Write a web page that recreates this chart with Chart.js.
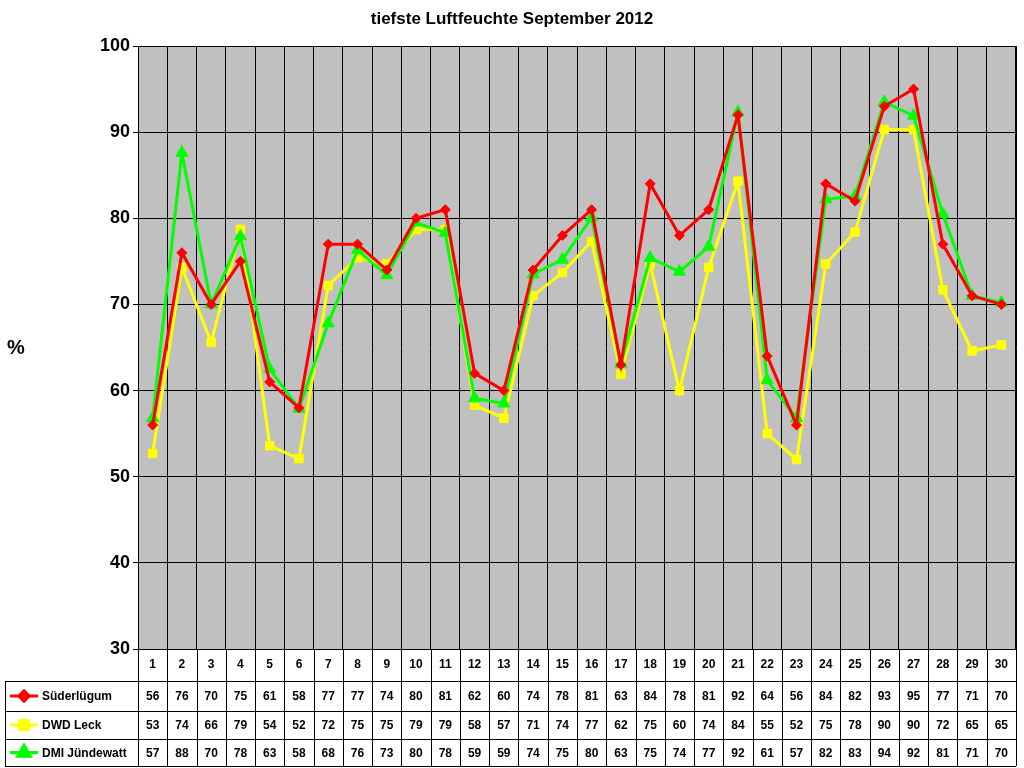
<!DOCTYPE html>
<html><head><meta charset="utf-8">
<script src="https://cdn.jsdelivr.net/npm/chart.js@4/dist/chart.umd.min.js"></script>
<style>body{margin:0;background:#fff}#c{display:block}</style>
</head><body>
<canvas id="c" width="1024" height="768"></canvas>
<script>
const days = ['1','2','3','4','5','6','7','8','9','10','11','12','13','14','15','16','17','18','19','20','21','22','23','24','25','26','27','28','29','30'];
const suederluegum = [56,76,70,75,61,58,77,77,74,80,81,62,60,74,78,81,63,84,78,81,92,64,56,84,82,93,95,77,71,70];
const dwdLeck = [52.7,74.3,65.6,78.7,53.6,52.1,72.2,75.4,74.7,78.7,78.7,58.3,56.8,71.0,73.7,77.3,61.9,74.7,60.0,74.3,84.3,55.0,52.0,74.7,78.4,90.3,90.3,71.7,64.6,65.3];
const dmiJuendewatt = [56.8,87.6,70,77.9,62.5,57.9,67.8,76.3,73.4,79.5,78.3,59.1,58.5,73.5,75.2,80.1,63.1,75.4,73.8,76.7,92.3,61.2,56.8,82.2,82.6,93.5,91.9,80.5,71.0,70.2];
const FONT = '"Liberation Sans", Arial, sans-serif';

const series = [
  {label:'Süderlügum', data:suederluegum, color:'#FF0000', style:'rectRot', r:5, order:0},
  {label:'DWD Leck', data:dwdLeck, color:'#FFFF00', style:'rect', r:6, order:2},
  {label:'DMI Jündewatt', data:dmiJuendewatt, color:'#00FF00', style:'triangle', r:7, order:1}
];

const bgPlugin = {
  id:'bg',
  beforeDraw(chart){
    const {ctx, chartArea:a} = chart;
    ctx.save(); ctx.fillStyle='#C0C0C0';
    ctx.fillRect(a.left,a.top,a.right-a.left,a.bottom-a.top); ctx.restore();
  },
  afterDraw(chart){
    const {ctx, chartArea:a} = chart;
    const xs = chart.scales.x;
    ctx.save();
    ctx.fillStyle='#000';
    ctx.font='bold 17px '+FONT; ctx.textAlign='center'; ctx.textBaseline='middle';
    ctx.fillText('tiefste Luftfeuchte September 2012', 512, 19);
    ctx.font='bold 20px '+FONT;
    ctx.fillText('%', 16, 348);
    // plot border
    ctx.strokeStyle='#000'; ctx.lineWidth=1;
    ctx.strokeRect(a.left+0.5,a.top+0.5,a.right-a.left-1,a.bottom-a.top);
    // table
    const step = xs.getPixelForValue(1)-xs.getPixelForValue(0);
    const rows = [a.bottom, 681, 711, 739, 766];
    const L = 5;
    ctx.beginPath();
    for(let i=0;i<=days.length;i++){
      const x = Math.round(a.left+i*step)+0.5;
      ctx.moveTo(x,rows[0]); ctx.lineTo(x,rows[4]);
    }
    ctx.moveTo(L+0.5,rows[1]); ctx.lineTo(L+0.5,rows[4]);
    for(let r=1;r<rows.length;r++){
      ctx.moveTo(L,rows[r]+0.5); ctx.lineTo(a.right,rows[r]+0.5);
    }
    ctx.stroke();
    ctx.font='bold 12px '+FONT;
    days.forEach((d,i)=>{
      const x = xs.getPixelForValue(i);
      ctx.fillText(d,x,(rows[0]+rows[1])/2);
      series.forEach((s,k)=>ctx.fillText(String(Math.round(s.data[i])),x,(rows[k+1]+rows[k+2])/2+1));
    });
    series.forEach((s,k)=>{
      const y=(rows[k+1]+rows[k+2])/2;
      ctx.strokeStyle=s.color; ctx.lineWidth=3;
      ctx.beginPath(); ctx.moveTo(10,y); ctx.lineTo(38,y); ctx.stroke();
      Chart.helpers.drawPoint(ctx,{pointStyle:s.style,radius:s.r,rotation:0,borderWidth:1},24,y);
      ctx.fillStyle=s.color; ctx.strokeStyle=s.color;
      ctx.beginPath();
      Chart.helpers.drawPoint(ctx,{pointStyle:s.style,radius:s.r,rotation:0,borderWidth:1},24,y);
      ctx.fillStyle='#000'; ctx.textAlign='left';
      ctx.fillText(s.label,42,y+1); ctx.textAlign='center';
    });
    ctx.restore();
  }
};

new Chart(document.getElementById('c'), {
  type:'line',
  data:{
    labels:days,
    datasets:series.map(s=>({
      label:s.label, data:s.data, borderColor:s.color, backgroundColor:s.color,
      borderWidth:3, pointStyle:s.style, pointRadius:s.r, pointBorderWidth:1,
      pointBorderColor:s.color, tension:0, order:s.order
    }))
  },
  options:{
    responsive:false, animation:false, devicePixelRatio:1,
    layout:{padding:{top:46,left:0,right:4,bottom:119}},
    plugins:{legend:{display:false},title:{display:false},tooltip:{enabled:false}},
    scales:{
      x:{offset:true, grid:{offset:true,color:'#000',drawTicks:false}, border:{display:false},
         ticks:{display:false}, afterFit(s){s.height=0;}},
      y:{min:30,max:100, grid:{color:'#000',drawTicks:true,tickLength:5}, border:{color:'#000'},
         ticks:{stepSize:10,color:'#000',font:{family:FONT,size:18,weight:'bold'}},
         afterFit(s){s.width=138;}}
    }
  },
  plugins:[bgPlugin]
});
</script>
</body></html>
